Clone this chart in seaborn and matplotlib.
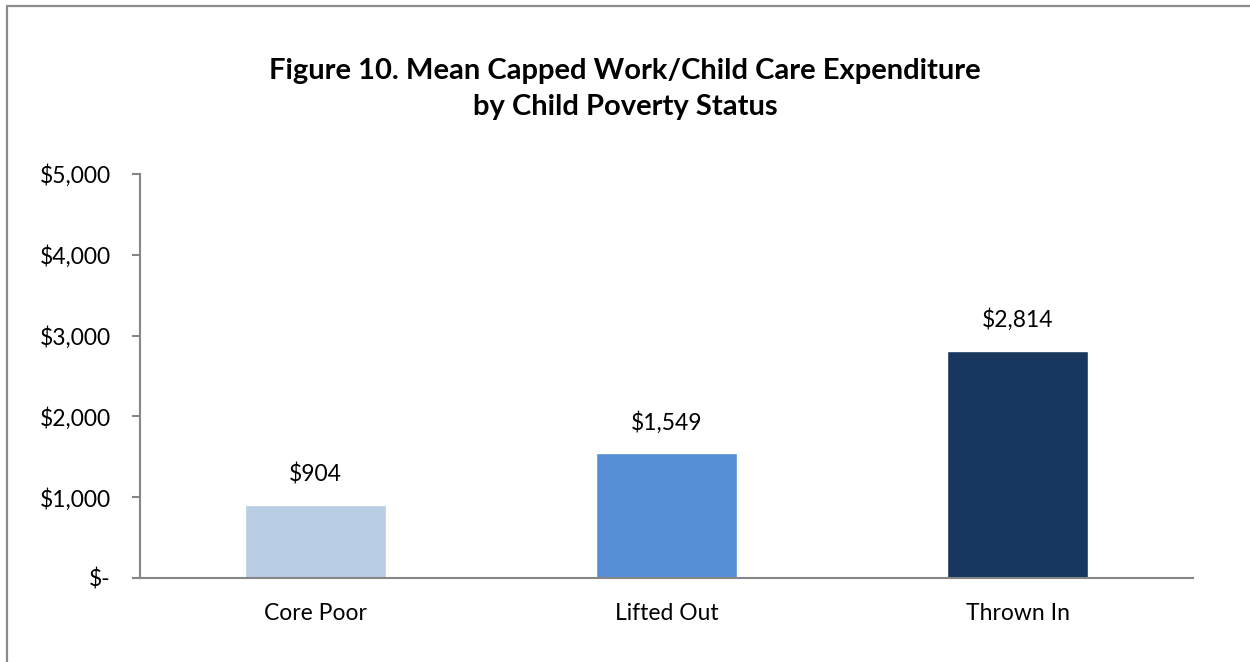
import matplotlib
matplotlib.use("Agg")
import matplotlib.pyplot as plt
from matplotlib.lines import Line2D
from matplotlib.ticker import FuncFormatter
import seaborn as sns
import pandas as pd

categories = ["Core Poor", "Lifted Out", "Thrown In"]
values = [904, 1549, 2814]
colors = ["#B9CDE5", "#558ED5", "#17375E"]
title = "Figure 10. Mean Capped Work/Child Care Expenditure\nby Child Poverty Status"

sns.set_theme(style="white")
plt.rcParams["font.family"] = ["Lato", "DejaVu Sans"]

df = pd.DataFrame({"status": categories, "expenditure": values})

fig = plt.figure(figsize=(12.5, 6.62), dpi=100)
ax = fig.add_axes([0.112, 0.1269, 0.8424, 0.6103])

sns.barplot(data=df, x="status", y="expenditure", hue="status",
            palette=colors, width=0.40, saturation=1, legend=False, ax=ax)

ax.set_xlim(-0.5, 2.5)
ax.set_ylim(0, 5000)
ax.set_yticks([0, 1000, 2000, 3000, 4000, 5000])
ax.yaxis.set_major_formatter(FuncFormatter(lambda v, _: "$-" if v == 0 else f"${v:,.0f}"))
ax.set_xlabel("")
ax.set_ylabel("")

axis_gray = "#868686"
for side in ["top", "right"]:
    ax.spines[side].set_visible(False)
for side in ["left", "bottom"]:
    ax.spines[side].set_color(axis_gray)
    ax.spines[side].set_linewidth(1.5)

label_size = 16.5
ax.tick_params(axis="y", which="major", direction="out", length=6, width=1.5,
               color=axis_gray, labelsize=label_size, labelcolor="black", pad=15, left=True)
ax.tick_params(axis="x", length=0, labelsize=label_size, labelcolor="black", pad=18)

for container in ax.containers:
    ax.bar_label(container, labels=[f"${v:,.0f}" for v in container.datavalues],
                 padding=14, fontsize=label_size, color="black")

fig.text(0.5, 0.8656, title, ha="center", va="center", fontsize=21,
         fontweight="bold", color="black", linespacing=1.5)

# outer chart frame (top and left edges)
frame_kw = dict(color="#8C8C8C", linewidth=1.6, transform=fig.transFigure)
fig.add_artist(Line2D([7 / 1250, 1.0], [1 - 6 / 662, 1 - 6 / 662], **frame_kw))
fig.add_artist(Line2D([7 / 1250, 7 / 1250], [0.0, 1 - 6 / 662], **frame_kw))

fig.savefig("out.png", dpi=100)
